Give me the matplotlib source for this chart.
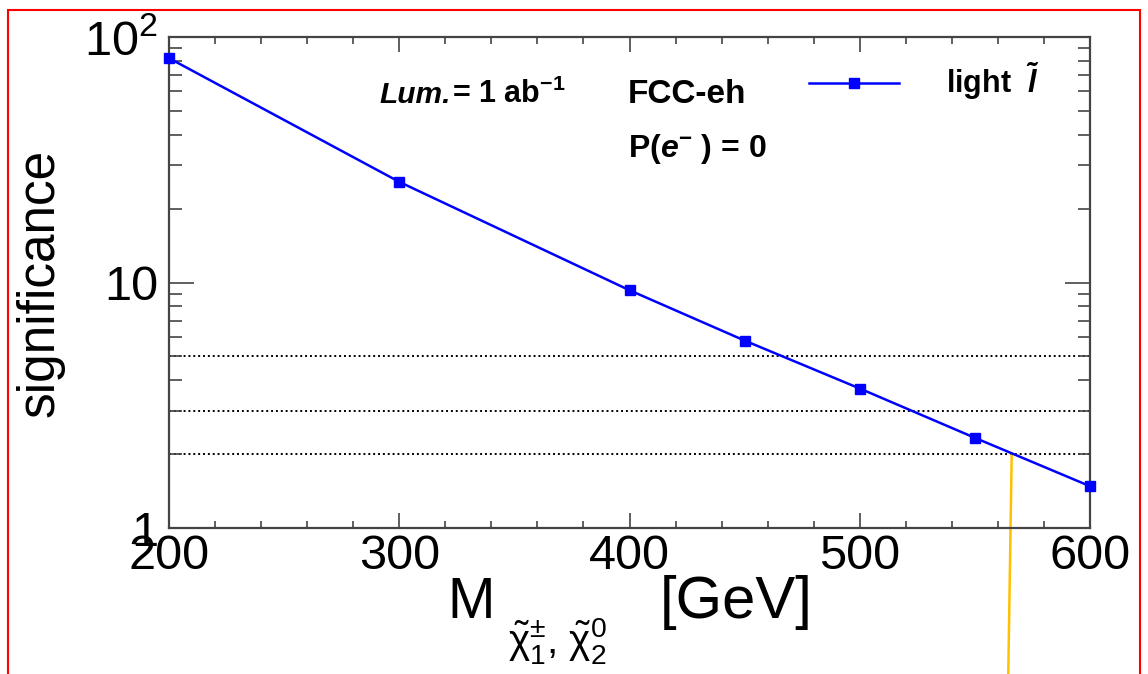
import numpy as np
import matplotlib
matplotlib.use("Agg")
import matplotlib.pyplot as plt
from matplotlib.patches import Rectangle

plt.rcParams["font.family"] = ["Liberation Sans", "DejaVu Sans"]
plt.rcParams["mathtext.fontset"] = "custom"
plt.rcParams["mathtext.rm"] = "Liberation Sans"
plt.rcParams["mathtext.it"] = "Liberation Sans:italic"
plt.rcParams["mathtext.bf"] = "Liberation Sans:bold"
plt.rcParams["mathtext.bfit"] = "Liberation Sans:italic:bold"

# data
masses = [200, 300, 400, 450, 500, 550, 600]
significance = [82, 25.7, 9.3, 5.8, 3.7, 2.33, 1.48]
thresholds = [5, 3, 2]
reach_x = [566, 564.5]
reach_y = [2, 0.254]

W, H = 1148, 674
fig = plt.figure(figsize=(W / 100, H / 100), dpi=100)
ax = fig.add_axes([169 / W, 1 - 528 / H, 921 / W, 491 / H])

ax.set_yscale("log")
ax.set_xlim(200, 600)
ax.set_ylim(1, 100)

for t in thresholds:
    ax.axhline(t, color="black", linestyle=(0, (1, 1.5)), linewidth=1.4, zorder=1)

ax.plot(masses, significance, color="#0000ff", linewidth=1.8, marker="s",
        markersize=7, clip_on=False, zorder=3, label=r"light  $\mathbfit{\tilde{l}}$")

ax.plot(reach_x, reach_y, color="#ffc000", linewidth=1.8, clip_on=False, zorder=2)

# ticks
ax.set_xticks([200, 300, 400, 500, 600])
ax.set_xticks(np.arange(200, 601, 20), minor=True)
ax.set_yticks([1, 10, 100])
ax.set_yticklabels(["1", "10", r"10$^{2}$"])
ax.tick_params(axis="both", which="both", direction="in", top=True, right=True,
               colors="#444444", labelcolor="black", width=1.2)
ax.tick_params(axis="x", which="major", length=11, labelsize=35, pad=4)
ax.tick_params(axis="x", which="minor", length=5)
ax.tick_params(axis="y", which="major", length=18, labelsize=35, pad=8)
ax.tick_params(axis="y", which="minor", length=9)
ax.yaxis.set_minor_formatter(matplotlib.ticker.NullFormatter())
for s in ax.spines.values():
    s.set_color("#444444")
    s.set_linewidth(1.6)

ax.set_ylabel("significance", fontsize=37, labelpad=14)

# x label pieces
fig.text(471 / W, 1 - 603 / H, "M", fontsize=41, ha="center", va="center")
fig.text(557 / W, 1 - 641 / H,
         r"$\mathrm{\tilde{\chi}}^{\pm}_{1}\mathrm{,}\ \mathrm{\tilde{\chi}}^{0}_{2}$",
         fontsize=29, ha="center", va="center")
fig.text(736 / W, 1 - 603 / H, "[GeV]", fontsize=43, ha="center", va="center")

# annotations
fig.text(379 / W, 1 - 103 / H, "Lum.", fontsize=21.5, fontweight="bold",
         fontstyle="italic", va="baseline")
fig.text(452 / W, 1 - 103 / H, r"= 1 ab$^{\mathbf{-1}}$", fontsize=22,
         fontweight="bold", va="baseline")
fig.text(628 / W, 1 - 103 / H, "FCC-eh", fontsize=24, fontweight="bold", va="baseline")
fig.text(628 / W, 1 - 157 / H, r"P($\mathbfit{e}^{\mathbf{-}}$ ) = 0", fontsize=23,
         fontweight="bold", va="baseline")

ax.legend(loc="upper left", bbox_to_anchor=(781 / W, 1 - 33 / H),
          bbox_transform=fig.transFigure, frameon=False, handlelength=2.95,
          handletextpad=1.55, prop={"weight": "bold", "size": 22})

fig.add_artist(Rectangle((8 / W, -0.1), 1132 / W, 1.1 - 10 / H,
                         transform=fig.transFigure, fill=False,
                         edgecolor="red", linewidth=1.5))

fig.savefig("out.png", dpi=100)
